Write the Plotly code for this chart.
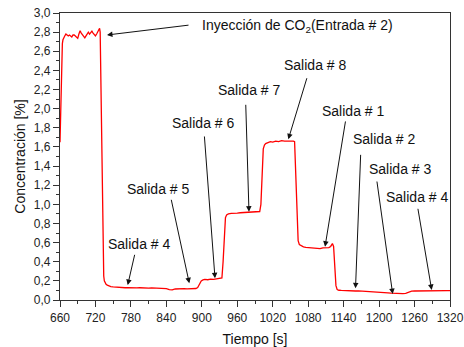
import plotly.graph_objects as go

# ---- data ----
tiempo = [660, 661, 662, 663, 664, 665, 666, 667, 668, 670, 672, 674, 676, 678, 680, 682, 684, 686,
          688, 690, 692, 694, 696, 698, 700, 702, 704, 706, 708, 710, 712, 714, 716, 718, 720, 722,
          724, 726, 727, 728, 729, 730, 731, 732, 733, 734, 735, 736, 738, 740, 743, 746, 750, 755,
          760, 765, 770, 775, 780, 785, 790, 795, 800, 805, 810, 815, 820, 825, 830, 835, 840, 845,
          850, 855, 860, 865, 870, 875, 880, 885, 890, 893, 896, 899, 902, 905, 910, 915, 920, 925,
          930, 934, 936, 938, 940, 942, 945, 950, 955, 960, 965, 970, 975, 980, 985, 990, 995, 998,
          1000, 1002, 1004, 1006, 1008, 1012, 1016, 1020, 1025, 1030, 1035, 1040, 1045, 1050, 1055,
          1057, 1059, 1061, 1063, 1065, 1068, 1072, 1076, 1080, 1085, 1090, 1095, 1100, 1105, 1110,
          1115, 1118, 1121, 1123, 1125, 1127, 1129, 1132, 1136, 1140, 1145, 1150, 1155, 1160, 1165,
          1170, 1175, 1180, 1185, 1190, 1195, 1200, 1205, 1210, 1215, 1220, 1225, 1230, 1235, 1240,
          1245, 1250, 1255, 1260, 1265, 1270, 1275, 1280, 1285, 1290, 1295, 1300, 1305, 1310, 1315,
          1320]
concentracion = [1.65, 1.9, 2.3, 2.55, 2.68, 2.72, 2.74, 2.76, 2.76, 2.78, 2.77, 2.76, 2.77, 2.76,
                 2.75, 2.77, 2.77, 2.76, 2.745, 2.735, 2.78, 2.815, 2.79, 2.77, 2.755, 2.74, 2.76,
                 2.785, 2.80, 2.78, 2.79, 2.81, 2.79, 2.77, 2.76, 2.78, 2.80, 2.83, 2.84, 2.80, 2.3,
                 1.8, 1.2, 0.7, 0.4, 0.25, 0.2, 0.18, 0.165, 0.155, 0.145, 0.14, 0.137, 0.133, 0.13,
                 0.132, 0.128, 0.13, 0.127, 0.129, 0.126, 0.128, 0.125, 0.127, 0.124, 0.126, 0.125,
                 0.123, 0.125, 0.12, 0.118, 0.108, 0.105, 0.115, 0.118, 0.116, 0.118, 0.117, 0.119,
                 0.118, 0.12, 0.13, 0.17, 0.2, 0.21, 0.215, 0.212, 0.218, 0.216, 0.222, 0.225, 0.23,
                 0.4, 0.7, 0.86, 0.89, 0.9, 0.905, 0.91, 0.908, 0.912, 0.915, 0.913, 0.92, 0.918,
                 0.925, 0.93, 0.925, 1.0, 1.4, 1.58, 1.62, 1.635, 1.645, 1.655, 1.65, 1.66, 1.655,
                 1.665, 1.66, 1.662, 1.658, 1.66, 1.655, 1.3, 0.8, 0.62, 0.58, 0.565, 0.555, 0.55,
                 0.548, 0.545, 0.54, 0.542, 0.538, 0.545, 0.55, 0.548, 0.56, 0.59, 0.56, 0.3, 0.15,
                 0.11, 0.102, 0.1, 0.098, 0.097, 0.095, 0.096, 0.094, 0.095, 0.093, 0.092, 0.09,
                 0.091, 0.089, 0.088, 0.087, 0.086, 0.08, 0.075, 0.072, 0.07, 0.075, 0.068, 0.066,
                 0.07, 0.085, 0.092, 0.094, 0.095, 0.094, 0.096, 0.095, 0.097, 0.096, 0.097, 0.098,
                 0.096, 0.097, 0.098, 0.097]

etiquetas = ["Inyección de CO<sub>2</sub>(Entrada # 2)", "Salida # 4", "Salida # 5", "Salida # 6",
             "Salida # 7", "Salida # 8", "Salida # 1", "Salida # 2", "Salida # 3", "Salida # 4"]
# points the arrows indicate (time, concentration)
objetivo_t = [739.5, 774.6, 878.8, 922.3, 979.8, 1046.4, 1108.5, 1160.1, 1223.0, 1289.0]
objetivo_c = [2.770, 0.157, 0.175, 0.227, 0.923, 1.680, 0.557, 0.122, 0.063, 0.105]

x_ticks = list(range(660, 1321, 60))
y_ticks = [i / 10 for i in range(0, 31, 2)]

# ---- layout helpers (positions of label text and arrow tails) ----
texto_pos = [(896.9, 2.864, "left"), (794.5, 0.585, "center"), (825.8, 1.157, "center"),
             (902.8, 1.847, "center"), (980.4, 2.195, "center"), (1091.5, 2.456, "center"),
             (1155.3, 1.979, "center"), (1208.8, 1.680, "center"), (1235.4, 1.369, "center"),
             (1263.6, 1.080, "center")]
cola_pos = [(880.0, 2.875), (786.9, 0.488), (847.8, 1.063), (904.2, 1.725), (974.3, 2.056),
            (1078.5, 2.334), (1143.5, 1.882), (1168.9, 1.533), (1196.0, 1.254), (1265.3, 0.969)]

fig = go.Figure()
fig.add_trace(go.Scatter(x=tiempo, y=concentracion, mode="lines",
                         line=dict(color="#ff0000", width=1.3), showlegend=False))

font = "Liberation Sans, Arial, sans-serif"
anns = []
for lab, (tx, ty, anc), (cx, cy), hx, hy in zip(etiquetas, texto_pos, cola_pos, objetivo_t, objetivo_c):
    anns.append(dict(x=tx, y=ty, xref="x", yref="y", text=lab, showarrow=False,
                     xanchor=anc, yanchor="middle", font=dict(family=font, size=14, color="#111")))
    anns.append(dict(x=hx, y=hy, xref="x", yref="y", ax=cx, ay=cy, axref="x", ayref="y",
                     text="", showarrow=True, arrowhead=2, arrowsize=1.1, arrowwidth=1,
                     arrowcolor="#111"))

axis_common = dict(showline=True, linecolor="#333", linewidth=1.3, mirror=True,
                   ticks="outside", ticklen=6, tickwidth=1, tickcolor="#333",
                   showgrid=False, zeroline=False, automargin=False,
                   tickfont=dict(family=font, size=12, color="#222"))

fig.update_layout(
    width=464, height=347,
    margin=dict(l=60, r=14, t=13, b=47),
    paper_bgcolor="white", plot_bgcolor="white",
    separators=",.",
    annotations=anns,
    xaxis=dict(range=[660, 1320], tickvals=x_ticks,
               minor=dict(dtick=30, tick0=660, ticks="outside", ticklen=3, tickcolor="#333"),
               title=dict(text="Tiempo [s]", font=dict(family=font, size=14, color="#111"), standoff=16),
               **axis_common),
    yaxis=dict(range=[0, 3.0], tickvals=y_ticks, tickformat=".1f",
               minor=dict(dtick=0.1, tick0=0, ticks="outside", ticklen=3, tickcolor="#333"),
               title=dict(text="Concentración [%]", font=dict(family=font, size=14, color="#111"), standoff=4),
               **axis_common),
)

fig.write_html("out.html")
